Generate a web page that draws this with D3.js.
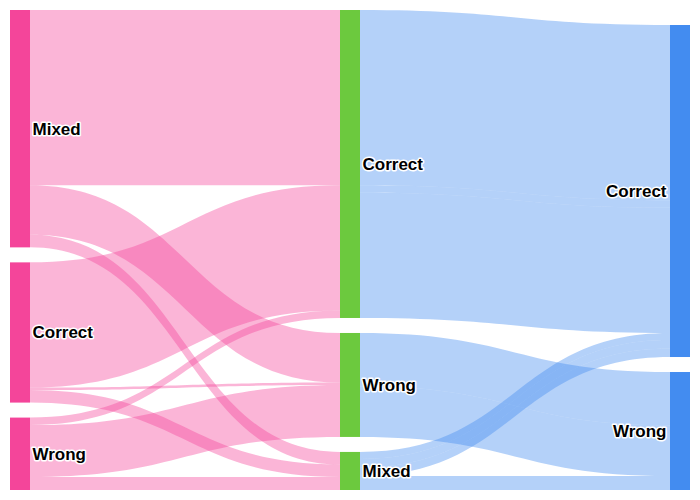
<!DOCTYPE html>
<html><head><meta charset="utf-8">
<script src="https://cdn.jsdelivr.net/npm/d3@7"></script>
<style>html,body{margin:0;padding:0;background:#fff;}</style>
</head><body>
<svg id="chart" width="700" height="500"></svg>
<script>
// ---- data ----
const stage1Nodes = ["Mixed", "Correct", "Wrong"];
const stage2Nodes = ["Correct", "Wrong", "Mixed"];
const stage3Nodes = ["Correct", "Wrong"];

// stage 1 -> stage 2
const sources1 = ["Mixed","Mixed","Mixed","Correct","Correct","Correct","Wrong","Wrong","Wrong"];
const targets1 = ["Correct","Wrong","Mixed","Correct","Wrong","Mixed","Correct","Wrong","Mixed"];
const values1  = [175, 49.5, 12.5, 125, 2.5, 12.5, 7.5, 51.8, 13];

// stage 2 -> stage 3
const sources2 = ["Correct","Correct","Correct","Wrong","Wrong","Mixed","Mixed","Mixed","Mixed","Mixed"];
const targets2 = ["Correct","Correct","Correct","Wrong","Wrong","Correct","Correct","Correct","Wrong","Wrong"];
const values2  = [175, 7.5, 125, 53.3, 50.5, 7, 8.5, 8.5, 5, 9];

const stageColors = ["#f4459a", "#6cc93e", "#438cf0"];
const linkColors  = ["#f4459a", "#438cf0"];

// ---- layout ----
const W = 700, H = 500;
const margin = {top: 10, right: 10, bottom: 10, left: 10};
const nodeWidth = 20, nodePadding = 15;
const innerH = H - margin.top - margin.bottom;

const stages = [stage1Nodes, stage2Nodes, stage3Nodes];
const nodes = [];
const byKey = new Map();
stages.forEach((names, s) => names.forEach((name, i) => {
  const n = {name, stage: s, order: i, sourceLinks: [], targetLinks: []};
  nodes.push(n); byKey.set(s + ":" + name, n);
}));

const links = [];
[[sources1, targets1, values1], [sources2, targets2, values2]].forEach(([src, tgt, val], s) => {
  src.forEach((sName, i) => {
    const l = {source: byKey.get(s + ":" + sName), target: byKey.get((s + 1) + ":" + tgt[i]),
               value: val[i], stage: s, index: links.length};
    l.source.sourceLinks.push(l); l.target.targetLinks.push(l);
    links.push(l);
  });
});

nodes.forEach(n => {
  n.value = Math.max(d3.sum(n.sourceLinks, l => l.value), d3.sum(n.targetLinks, l => l.value));
});

const x = d3.scaleLinear().domain([0, stages.length - 1])
  .range([margin.left, W - margin.right - nodeWidth]);

const columns = stages.map((_, s) => nodes.filter(n => n.stage === s));
const ky = d3.min(columns, col => (innerH - (col.length - 1) * nodePadding) / d3.sum(col, n => n.value));
const v = d3.scaleLinear().domain([0, 1]).range([0, ky]);

columns.forEach((col, s) => {
  const extent = d3.sum(col, n => v(n.value)) + (col.length - 1) * nodePadding;
  // last column is justified to the bottom
  let y = (s === columns.length - 1) ? margin.top + innerH - extent : margin.top;
  col.forEach(n => {
    n.x0 = x(s); n.x1 = n.x0 + nodeWidth;
    n.y0 = y; n.y1 = y + v(n.value);
    y = n.y1 + nodePadding;
  });
});

nodes.forEach(n => {
  n.sourceLinks.sort((a, b) => (a.target.y0 - b.target.y0) || (a.index - b.index));
  n.targetLinks.sort((a, b) => (a.source.y0 - b.source.y0) || (a.index - b.index));
  let y0 = n.y0;
  n.sourceLinks.forEach(l => { l.width = v(l.value); l.sy0 = y0; y0 += l.width; l.sy1 = y0; });
  let y1 = n.y0;
  n.targetLinks.forEach(l => { l.ty0 = y1; y1 += l.width; l.ty1 = y1; });
});

// filled band: constant vertical thickness
function bandPath(l) {
  const sx = l.source.x1, tx = l.target.x0, xm = (sx + tx) / 2;
  const p = d3.path();
  p.moveTo(sx, l.sy0);
  p.bezierCurveTo(xm, l.sy0, xm, l.ty0, tx, l.ty0);
  p.lineTo(tx, l.ty1);
  p.bezierCurveTo(xm, l.ty1, xm, l.sy1, sx, l.sy1);
  p.closePath();
  return p.toString();
}

// ---- draw ----
const svg = d3.select("#chart");

svg.append("g")
  .selectAll("path").data(links).join("path")
  .attr("d", bandPath)
  .attr("fill", d => linkColors[d.stage])
  .attr("fill-opacity", 0.4)
  .attr("stroke", "none");

svg.append("g").selectAll("rect").data(nodes).join("rect")
  .attr("x", d => d.x0).attr("y", d => d.y0)
  .attr("width", d => d.x1 - d.x0).attr("height", d => d.y1 - d.y0)
  .attr("fill", d => stageColors[d.stage]);

svg.append("g")
  .style("font", "bold 17px 'Liberation Sans', Arial, sans-serif")
  .selectAll("text").data(nodes).join("text")
  .attr("x", d => d.x0 < W / 2 ? d.x1 + 2.5 : d.x0 - 3.5)
  .attr("y", d => (d.y0 + d.y1) / 2)
  .attr("dy", "0.35em")
  .attr("text-anchor", d => d.x0 < W / 2 ? "start" : "end")
  .attr("fill", "#000")
  .attr("stroke", "#fff")
  .attr("stroke-width", 3)
  .attr("stroke-linejoin", "round")
  .attr("paint-order", "stroke")
  .text(d => d.name);
</script>
</body></html>
